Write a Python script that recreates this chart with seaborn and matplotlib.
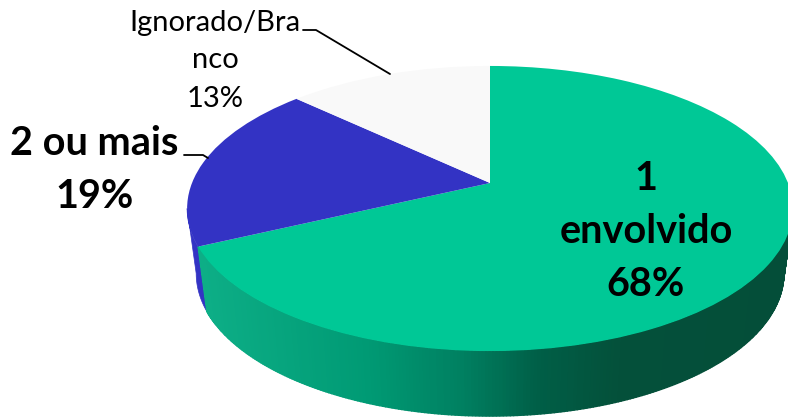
import numpy as np
import matplotlib
matplotlib.use("Agg")
import matplotlib.pyplot as plt
from matplotlib.transforms import Transform
from matplotlib.colors import LinearSegmentedColormap
import seaborn as sns

categories = ["1 envolvido", "2 ou mais", "Ignorado/Branco"]
shares = [68, 19, 13]
slice_colors = ["#00C896", "#3333C4", "#F9F9F9"]

sns.set_theme(style="white")
plt.rcParams["font.family"] = ["Lato", "DejaVu Sans"]

CX, CY, RX, RY, K, DEPTH, BOTTOM_SCALE = 490.0, 183.0, 298.0, 138.0, 0.179, 65.0, 0.97


class Tilt(Transform):
    """Perspective tilt of the unit pie disc into pixel coordinates."""
    input_dims = output_dims = 2
    is_separable = False
    has_inverse = False

    def __init__(self, dy=0.0, sx=1.0):
        super().__init__()
        self.dy = dy
        self.sx = sx

    def transform_non_affine(self, values):
        values = np.asarray(values, float)
        w = 1 + K * values[:, 1]
        return np.column_stack((CX + self.sx * RX * values[:, 0] / w,
                                CY - RY * values[:, 1] / w + self.dy))


fig = plt.figure(figsize=(7.88, 4.19), dpi=100)
ax = fig.add_axes([0, 0, 1, 1])

top = Tilt()
shares_arr = np.array(shares, float)
angles = 90 - np.cumsum(np.r_[0, shares_arr]) / shares_arr.sum() * 360

wall_cmap = LinearSegmentedColormap.from_list(
    "wall", [(0.0, "#0EB088"), (0.3, "#009A74"), (0.46, "#007F60"),
             (0.58, "#005F47"), (0.72, "#04503A"), (1.0, "#044E39")])


def rim(t_deg, lower=False):
    t = np.radians(t_deg)
    pts = np.column_stack((np.cos(t), np.sin(t)))
    tf = Tilt(DEPTH, BOTTOM_SCALE) if lower else top
    return tf.transform_non_affine(pts)


probe = np.linspace(-180, 180, 3601)
right_t = probe[np.argmax(rim(probe)[:, 0])]
left_t = probe[np.argmin(rim(probe)[:, 0])] % 360 - 360

# blue rim
ts = np.linspace(left_t, angles[1], 40)
p0, p1 = rim(ts), rim(ts, True)
ax.fill(np.r_[p0[:, 0], p1[::-1, 0]], np.r_[p0[:, 1], p1[::-1, 1]],
        color=slice_colors[1], lw=0.5, zorder=1)

# green rim
ts = np.linspace(angles[1], right_t, 260)
p0, p1 = rim(ts), rim(ts, True)
for i in range(len(ts) - 1):
    xs = [p0[i, 0], p0[i + 1, 0], p1[i + 1, 0], p1[i, 0]]
    ys = [p0[i, 1], p0[i + 1, 1], p1[i + 1, 1], p1[i, 1]]
    c = wall_cmap((np.mean(xs) - 190) / 600)
    ax.fill(xs, ys, color=c, lw=1.0, zorder=2)

# top face
wedges, _ = ax.pie(shares, colors=sns.color_palette(slice_colors), startangle=90,
                   counterclock=False, radius=1, center=(0, 0), frame=True,
                   wedgeprops=dict(linewidth=0))
for wd in wedges:
    wd.set_transform(top + ax.transData)
    wd.set_zorder(3)
    wd.set_clip_on(False)

ax.set_aspect("auto")
ax.set_xlim(0, 788)
ax.set_ylim(419, 0)
ax.axis("off")

# leader lines
ax.plot([303, 316, 390], [30, 30, 74], color="black", lw=1.3, zorder=4)
ax.plot([184, 203, 208], [155, 155, 158], color="black", lw=1.3, zorder=4)

# labels
reg = dict(ha="center", va="center", color="black", fontsize=21, zorder=5)
bold = dict(ha="center", va="center", color="black", fontsize=28.5,
            fontweight="bold", zorder=5)
ax.text(215, 23, "Ignorado/Bra", **reg)
ax.text(215, 60, "nco", **reg)
ax.text(215, 99, "13%", **reg)
ax.text(94, 143, "2 ou mais", **bold)
ax.text(95, 196, "19%", **bold)
ax.text(646, 178, "1", **bold)
ax.text(646, 231, "envolvido", **bold)
ax.text(646, 284, "68%", **bold)

fig.savefig("out.png", dpi=100)
